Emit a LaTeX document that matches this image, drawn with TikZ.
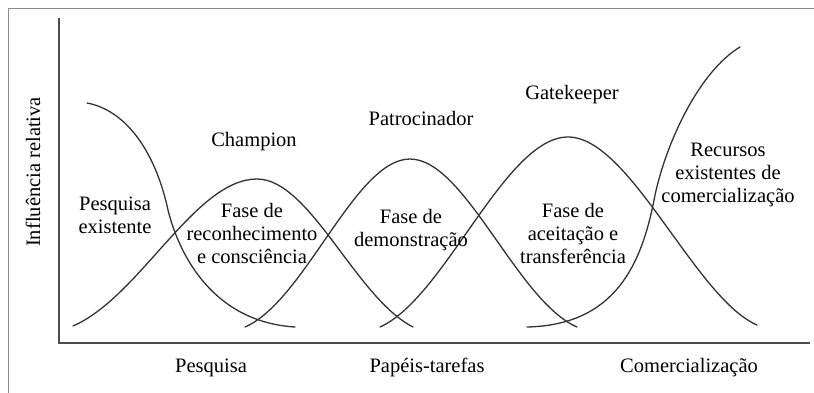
\documentclass[tikz,border=0pt]{standalone}
\usepackage{fontspec}
\setmainfont{Liberation Serif}
\usetikzlibrary{calc}
\tikzset{
    curve/.style={draw=black!80, line width=1.3pt, line cap=round},
    axis/.style={draw=black!70, line width=1.8pt},
    lbl/.style={align=center, inner sep=0pt, font=\fontsize{20.5}{23}\selectfont}}

\begin{document}
\begin{tikzpicture}[x=1pt,y=-1pt]
\useasboundingbox (0,0) rectangle (814,392);
% frame
\draw[black!45, line width=1pt] (8,400) -- (8,8) -- (820,8);
% axes
\coordinate (Top) at (59,18);
\coordinate (O) at (59,343);
\coordinate (Right) at (810,343);
\draw[axis] (Top) -- (O) -- (Right);
% existing research
\coordinate (R0) at (87,103);
\coordinate (R1) at (168,210);
\coordinate (R2) at (295,327);
\draw[curve] (R0) .. controls (125,110) and (155,150) .. (R1)
                  .. controls (180,258) and (215,322) .. (R2);
% champion
\coordinate (C0) at (73,326);
\coordinate (C1) at (257,179);
\coordinate (C2) at (413,327);
\draw[curve] (C0) .. controls (140,297) and (195,179) .. (C1)
                  .. controls (310,179) and (356,298) .. (C2);
% sponsor
\coordinate (S0) at (245,327);
\coordinate (S1) at (410,159);
\coordinate (S2) at (577,327);
\draw[curve] (S0) .. controls (305,301) and (355,159) .. (S1)
                  .. controls (465,159) and (517,301) .. (S2);
% gatekeeper
\coordinate (G0) at (380,327);
\coordinate (G1) at (568,137);
\coordinate (G2) at (757,325);
\draw[curve] (G0) .. controls (445,298) and (505,137) .. (G1)
                  .. controls (630,137) and (695,298) .. (G2);
% commercial resources
\coordinate (M0) at (527,327);
\coordinate (M1) at (655,195);
\coordinate (M2) at (740,47);
\draw[curve] (M0) .. controls (615,325) and (642,265) .. (M1)
                  .. controls (667,140) and (700,71) .. (M2);
% labels
\node[lbl, rotate=90] (yLabel) at (33,172) {Influência relativa};
\node[lbl] (existente) at (115,215) {Pesquisa\\existente};
\node[lbl] (champion) at (254,142) {Champion};
\node[lbl] (faseRec) at (252,233) {Fase de\\reconhecimento\\e consciência};
\node[lbl] (patrocinador) at (421,118) {Patrocinador};
\node[lbl] (faseDem) at (411,230) {Fase de\\demonstração};
\node[lbl] (gatekeeper) at (572,95) {Gatekeeper};
\node[lbl] (faseAce) at (573,233) {Fase de\\aceitação e\\transferência};
\node[lbl] (recursos) at (728,175) {Recursos\\existentes de\\comercialização};
\node[lbl, anchor=base] (pesquisa) at (211,372) {Pesquisa};
\node[lbl, anchor=base] (papeis) at (427,372) {Papéis-tarefas};
\node[lbl, anchor=base] (comerc) at (689,372) {Comercialização};
\end{tikzpicture}
\end{document}
